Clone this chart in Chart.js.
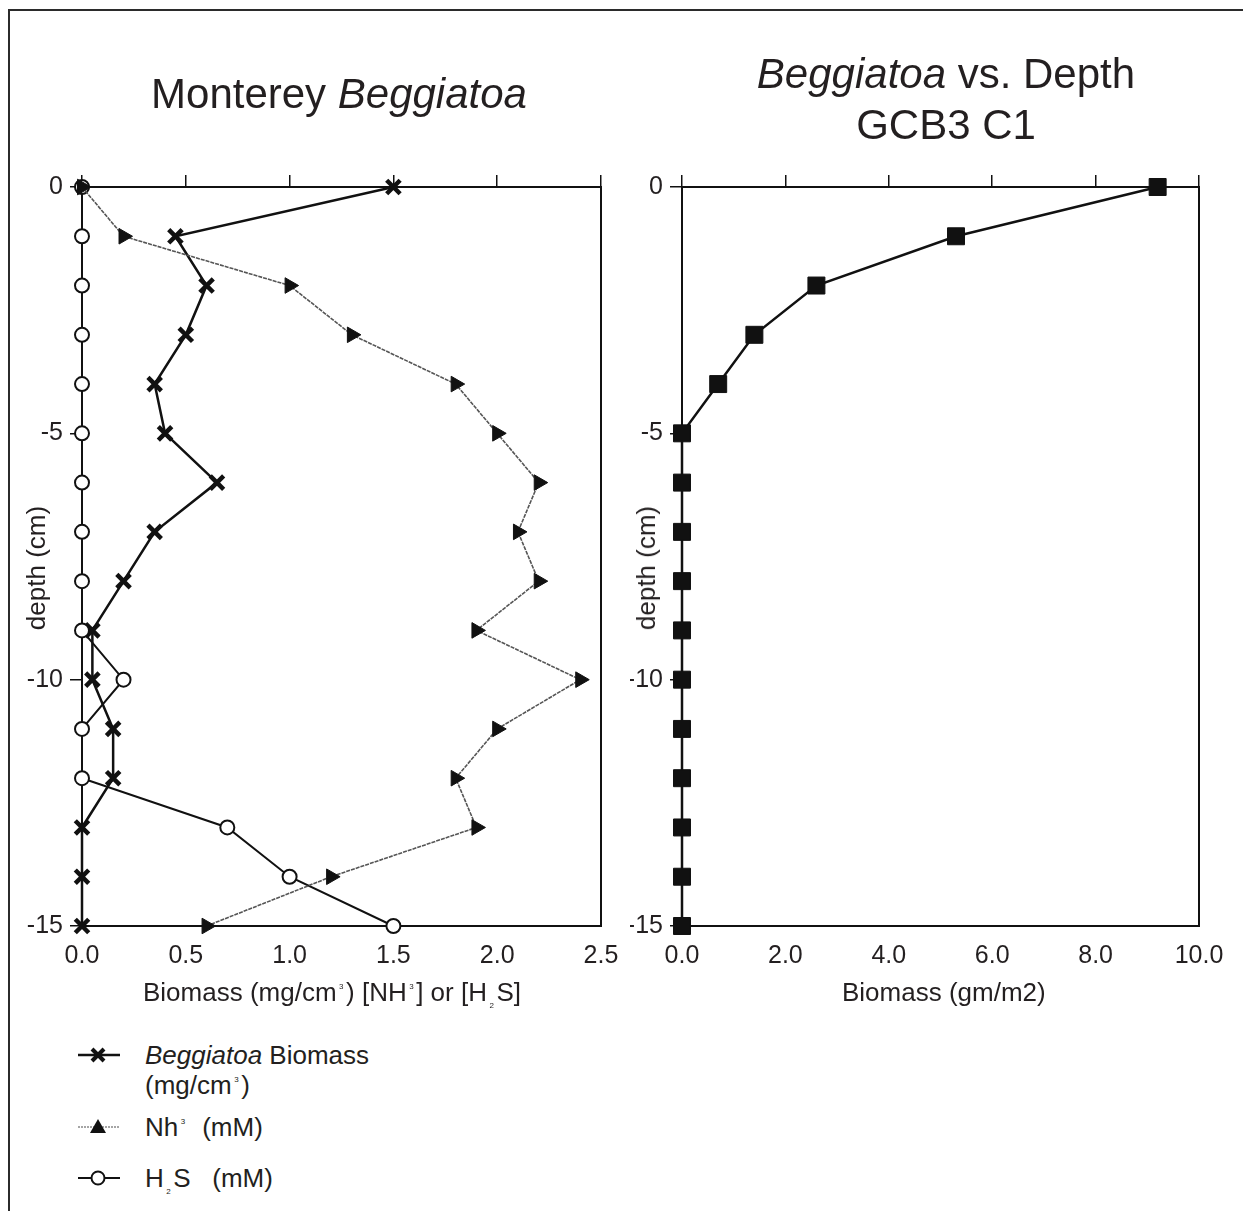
<!DOCTYPE html>
<html>
<head>
<meta charset="utf-8">
<script src="https://cdn.jsdelivr.net/npm/chart.js@4.4.1/dist/chart.umd.min.js"></script>
<style>
  html, body { margin: 0; padding: 0; background: #fff; }
  body { width: 1243px; height: 1211px; position: relative; overflow: hidden;
         font-family: 'Liberation Sans', Arial, Helvetica, sans-serif; color: #231f20; }
  .frame { position: absolute; left: 8px; top: 9px; width: 1240px; height: 1210px;
           border-top: 2.5px solid #2b2b2b; border-left: 2.5px solid #2b2b2b; }
  canvas { position: absolute; top: 0; }
  .t { position: absolute; white-space: pre; line-height: 48px; font-size: 42px; text-align: center; }
  .lab { position: absolute; white-space: pre; font-size: 26px; line-height: 30px; }
  .rot { position: absolute; font-size: 26px; line-height: 30px; white-space: pre;
         transform: translate(-50%, -50%) rotate(-90deg); }
  .sup, .sub { font-size: 8px; line-height: 0; position: relative; margin: 0 2.5px; }
  .sup { top: -12px; }
  .sub { top: 7px; }
  svg { position: absolute; left: 0; top: 0; }
</style>
</head>
<body>
<div class="frame"></div>
<canvas id="left" width="640" height="1040" style="left:0"></canvas>
<canvas id="right" width="613" height="1040" style="left:630px"></canvas>

<div class="t" style="left:139px; width:400px; top:70px;">Monterey <i>Beggiatoa</i></div>
<div class="t" style="left:746px; width:400px; top:50px;"><i>Beggiatoa</i> vs. Depth</div>
<div class="t" style="left:746px; width:400px; top:101px;">GCB3 C1</div>

<div class="lab" style="left:143px; top:977px;">Biomass (mg/cm<span class="sup">3</span>) [NH<span class="sup">3</span>] or [H<span class="sub">2</span>S]</div>
<div class="lab" style="left:842px; top:977px;">Biomass (gm/m2)</div>
<div class="rot" style="left:36px; top:568px;">depth (cm)</div>
<div class="rot" style="left:646px; top:568px;">depth (cm)</div>

<svg width="140" height="1211">
  <line x1="78" y1="1055" x2="120" y2="1055" stroke="#111" stroke-width="2.5"/>
  <line x1="92" y1="1049" x2="104" y2="1061" stroke="#111" stroke-width="4"/>
  <line x1="92" y1="1061" x2="104" y2="1049" stroke="#111" stroke-width="4"/>
  <line x1="78" y1="1127" x2="120" y2="1127" stroke="#888" stroke-width="1.5" stroke-dasharray="2 1"/>
  <polygon points="98,1119 90,1133 106,1133" fill="#111"/>
  <line x1="78" y1="1178" x2="120" y2="1178" stroke="#111" stroke-width="2"/>
  <circle cx="98" cy="1178" r="6.5" fill="#fff" stroke="#111" stroke-width="2"/>
</svg>
<div class="lab" style="left:145px; top:1040px;"><i>Beggiatoa</i> Biomass</div>
<div class="lab" style="left:145px; top:1070px;">(mg/cm<span class="sup">3</span>)</div>
<div class="lab" style="left:145px; top:1112px;">Nh<span class="sup">3</span>  (mM)</div>
<div class="lab" style="left:145px; top:1163px;">H<span class="sub">2</span>S   (mM)</div>

<script>
// Sampling depths (cm below the sediment surface)
const depths = [0, -1, -2, -3, -4, -5, -6, -7, -8, -9, -10, -11, -12, -13, -14, -15];

// Monterey core profiles
const biomassMg = [1.5, 0.45, 0.6, 0.5, 0.35, 0.4, 0.65, 0.35, 0.2, 0.05, 0.05, 0.15, 0.15, 0, 0, 0];
const nh3mM     = [0, 0.2, 1.0, 1.3, 1.8, 2.0, 2.2, 2.1, 2.2, 1.9, 2.4, 2.0, 1.8, 1.9, 1.2, 0.6];
const h2smM     = [0, 0, 0, 0, 0, 0, 0, 0, 0, 0, 0.2, 0, 0, 0.7, 1.0, 1.5];

// GCB3 C1 core biomass
const biomassGm = [9.2, 5.3, 2.6, 1.4, 0.7, 0, 0, 0, 0, 0, 0, 0, 0, 0, 0, 0];

// Tick labels
const leftXTicks  = [0, 0.5, 1.0, 1.5, 2.0, 2.5];
const rightXTicks = [0, 2, 4, 6, 8, 10];
const depthTicks  = [0, -5, -10, -15];

const INK = '#111';
const TXT = '#231f20';
const tickFont = { family: "'Liberation Sans', Arial, sans-serif", size: 25 };

const pairs = vals => vals.map((v, i) => ({ x: v, y: depths[i] }));
const fixTicks = list => scale => { scale.ticks = list.map(v => ({ value: v })); };

function profileOptions(xMax, xTicks, box) {
  // box: chart-area edges in canvas pixels
  return {
    responsive: false,
    animation: false,
    devicePixelRatio: 1,
    layout: { padding: 0 },
    plugins: { legend: { display: false }, tooltip: { enabled: false } },
    scales: {
      x: {
        type: 'linear', position: 'bottom', min: 0, max: xMax,
        afterBuildTicks: fixTicks(xTicks),
        afterFit: s => { s.height = box.h - box.bottom; },
        ticks: { font: tickFont, color: TXT, padding: 15, maxRotation: 0, autoSkip: false,
                 callback: v => Number(v).toFixed(1) },
        grid: { drawOnChartArea: false, drawTicks: false },
        border: { display: true, color: INK, width: 2 }
      },
      xTop: {
        type: 'linear', position: 'top', min: 0, max: xMax,
        afterBuildTicks: fixTicks(xTicks),
        afterFit: s => { s.height = box.top; },
        ticks: { display: false },
        grid: { drawOnChartArea: false, drawTicks: true, tickLength: 12, color: INK, lineWidth: 1.5 },
        border: { display: true, color: INK, width: 2 }
      },
      y: {
        type: 'linear', position: 'left', min: -15, max: 0,
        afterBuildTicks: fixTicks(depthTicks),
        afterFit: s => { s.width = box.left; },
        ticks: { font: tickFont, color: TXT, padding: 7, callback: v => String(v) },
        grid: { drawOnChartArea: false, drawTicks: true, tickLength: 12, color: INK, lineWidth: 1.5 },
        border: { display: true, color: INK, width: 2 }
      },
      yRight: {
        type: 'linear', position: 'right', min: -15, max: 0,
        afterFit: s => { s.width = box.w - box.right; },
        ticks: { display: false },
        grid: { drawOnChartArea: false, drawTicks: false },
        border: { display: true, color: INK, width: 2 }
      }
    }
  };
}

// Monterey Beggiatoa profiles
new Chart(document.getElementById('left'), {
  type: 'line',
  data: {
    datasets: [
      {
        label: 'NH3 (mM)', data: pairs(nh3mM),
        borderColor: '#555', borderWidth: 1.6, borderDash: [4, 1],
        pointStyle: 'triangle', pointRotation: 90, pointRadius: 9,
        pointBackgroundColor: INK, pointBorderColor: INK, pointBorderWidth: 1,
        clip: false, tension: 0
      },
      {
        label: 'H2S (mM)', data: pairs(h2smM),
        borderColor: INK, borderWidth: 2,
        pointStyle: 'circle', pointRadius: 7,
        pointBackgroundColor: '#fff', pointBorderColor: INK, pointBorderWidth: 2,
        clip: false, tension: 0
      },
      {
        label: 'Beggiatoa Biomass (mg/cm3)', data: pairs(biomassMg),
        borderColor: INK, borderWidth: 2.5,
        pointStyle: 'crossRot', pointRadius: 9.5,
        pointBorderColor: INK, pointBorderWidth: 4.5,
        clip: false, tension: 0
      }
    ]
  },
  options: profileOptions(2.5, leftXTicks, { left: 82, right: 601, top: 187, bottom: 926, w: 640, h: 1040 })
});

// Beggiatoa vs. depth, GCB3 C1
new Chart(document.getElementById('right'), {
  type: 'line',
  data: {
    datasets: [
      {
        label: 'Biomass (gm/m2)', data: pairs(biomassGm),
        borderColor: INK, borderWidth: 2.5,
        pointStyle: 'rect', pointRadius: 12,
        pointBackgroundColor: INK, pointBorderColor: INK, pointBorderWidth: 1,
        clip: false, tension: 0
      }
    ]
  },
  options: profileOptions(10, rightXTicks, { left: 52, right: 569, top: 187, bottom: 926, w: 613, h: 1040 })
});
</script>
</body>
</html>
